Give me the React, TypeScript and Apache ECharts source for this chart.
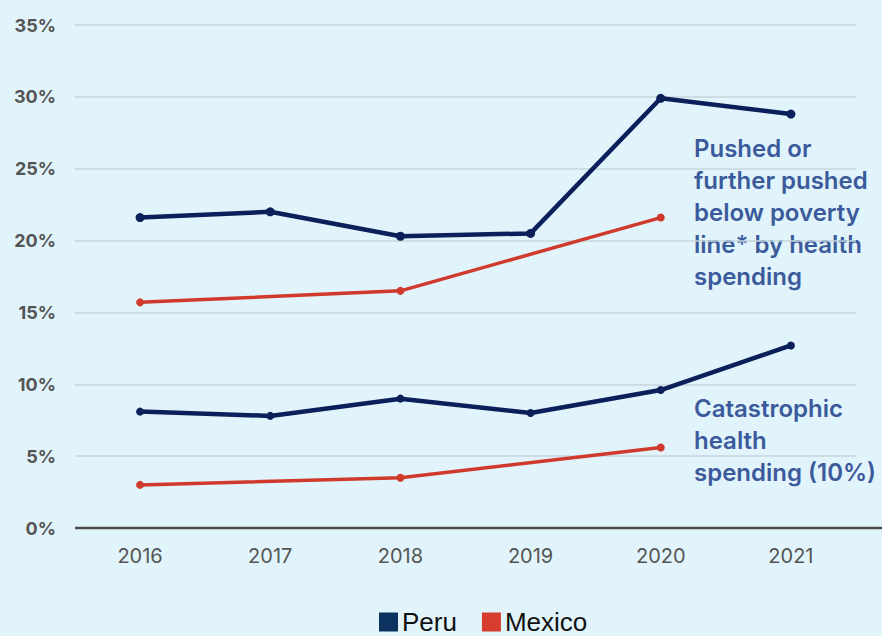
import React, { useEffect, useRef } from "react";
import * as echarts from "echarts";

const years = ["2016", "2017", "2018", "2019", "2020", "2021"];
const peruPushed = [21.6, 22.0, 20.3, 20.5, 29.9, 28.8];
const mexicoPushed = [15.7, null, 16.5, null, 21.6, null];
const peruCatastrophic = [8.1, 7.8, 9.0, 8.0, 9.6, 12.7];
const mexicoCatastrophic = [3.0, null, 3.5, null, 5.6, null];
const pushedLabel = ["Pushed or", "further pushed", "below poverty", "line* by health", "spending"];
const catastrophicLabel = ["Catastrophic", "health", "spending (10%)"];

const PERU = "#0b1f5a";
const PERU_LEGEND = "#0c3360";
const MEXICO = "#d03a2c";
const NOTE = "#3b5a9b";

export default function App() {
  const ref = useRef<HTMLDivElement>(null);
  useEffect(() => {
    document.body.style.margin = "0";
    const chart = echarts.init(ref.current!, null, { renderer: "svg" });
    const lineSeries = (name: string, data: (number | null)[], color: string, width: number, size: number) => ({
      type: "line",
      name,
      data,
      connectNulls: true,
      symbol: "circle",
      symbolSize: size,
      showSymbol: true,
      lineStyle: { color, width },
      itemStyle: { color },
      z: name === "Peru" ? 3 : 2,
    });
    chart.setOption({
      animation: false,
      backgroundColor: "#e1f4fb",
      textStyle: { fontFamily: "Inter" },
      grid: { left: 75, right: 26, top: 25, bottom: 108 },
      legend: {
        top: 609,
        left: 379,
        padding: 0,
        icon: "rect",
        itemWidth: 19,
        itemHeight: 19,
        itemGap: 25,
        textStyle: { fontSize: 26, color: "#111", fontFamily: "Liberation Sans", padding: [0, 0, 0, -1] },
        data: [
          { name: "Peru", itemStyle: { color: PERU_LEGEND } },
          { name: "Mexico", itemStyle: { color: "#d63d2e" } },
        ],
      },
      xAxis: {
        type: "category",
        data: years,
        boundaryGap: true,
        axisLine: { show: false },
        axisTick: { show: false },
        axisLabel: { color: "#555", fontSize: 20, margin: 18, fontFamily: "Inter" },
      },
      yAxis: {
        type: "value",
        min: 0,
        max: 35,
        interval: 5,
        axisLine: { show: false },
        axisTick: { show: false },
        splitLine: { lineStyle: { color: "#c5d6dd", width: 1.5 } },
        axisLabel: {
          formatter: "{value}%",
          color: "#555",
          fontSize: 18,
          fontWeight: 700,
          margin: 19,
          fontFamily: "Inter",
        },
      },
      series: [
        lineSeries("Peru", peruPushed, PERU, 4.5, 9),
        lineSeries("Mexico", mexicoPushed, MEXICO, 3.5, 8),
        lineSeries("Peru", peruCatastrophic, PERU, 4.5, 8),
        lineSeries("Mexico", mexicoCatastrophic, MEXICO, 3.5, 8),
      ],
      graphic: [
        {
          type: "line",
          shape: { x1: 75, y1: 528, x2: 882, y2: 528 },
          style: { stroke: "#4a4a4a", lineWidth: 2.5 },
          z: 1,
        },
        {
          type: "text",
          left: 694,
          top: 132,
          style: {
            text: pushedLabel.join("\n"),
            fill: NOTE,
            font: "600 24px Inter",
            lineHeight: 32,
          },
        },
        {
          type: "text",
          left: 694,
          top: 392,
          style: {
            text: catastrophicLabel.join("\n"),
            fill: NOTE,
            font: "600 24px Inter",
            lineHeight: 32,
          },
        },
      ],
    });
    return () => chart.dispose();
  }, []);
  return <div ref={ref} style={{ width: 882, height: 636, position: "fixed", left: 0, top: 0 }} />;
}
